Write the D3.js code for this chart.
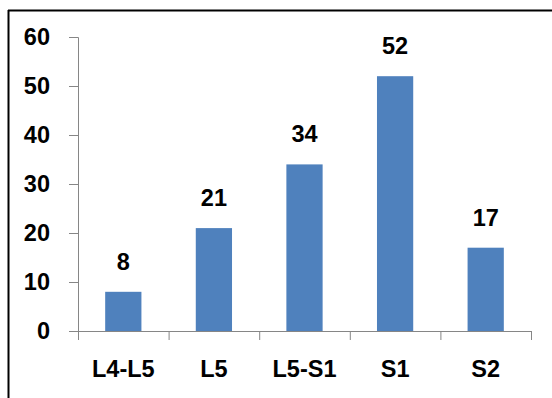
<!DOCTYPE html>
<html>
<head>
<meta charset="utf-8">
<script src="https://cdn.jsdelivr.net/npm/d3@7"></script>
<style>
  body { margin: 0; background: #fff; }
  text { font-family: "Liberation Sans", Arial, sans-serif; font-weight: bold; }
</style>
</head>
<body>
<div id="chart"></div>
<script>
// data
const categories = ["L4-L5", "L5", "L5-S1", "S1", "S2"];
const values = [8, 21, 34, 52, 17];
const yTicks = [0, 10, 20, 30, 40, 50, 60];

const width = 552, height = 398;
const margin = { top: 37, right: 21, bottom: 67, left: 78 };
const w = width - margin.left - margin.right;
const h = height - margin.top - margin.bottom;
const fontSize = "23.5px";

const svg = d3.select("#chart").append("svg")
    .attr("width", width)
    .attr("height", height);

// frame (only top and left edges are visible in the crop)
svg.append("line")
    .attr("x1", 8).attr("x2", width).attr("y1", 10.5).attr("y2", 10.5)
    .attr("stroke", "#000").attr("stroke-width", 2);
svg.append("line")
    .attr("x1", 8.5).attr("x2", 8.5).attr("y1", 10).attr("y2", height)
    .attr("stroke", "#000").attr("stroke-width", 2);

const g = svg.append("g")
    .attr("transform", `translate(${margin.left},${margin.top})`);

// band for the category slots, bars get 40% of each slot
const x = d3.scaleBand()
    .domain(categories)
    .range([0, w])
    .paddingInner(0.6)
    .paddingOuter(0.3);

const slot = d3.scaleBand()
    .domain(categories)
    .range([0, w]);

const y = d3.scaleLinear()
    .domain([0, 60])
    .range([h, 0]);

// bars
g.selectAll(".bar")
    .data(values)
    .enter().append("rect")
    .attr("class", "bar")
    .attr("x", (d, i) => x(categories[i]))
    .attr("y", d => y(d))
    .attr("width", x.bandwidth())
    .attr("height", d => y(0) - y(d))
    .attr("fill", "#4f81bd");

// value labels
g.selectAll(".val")
    .data(values)
    .enter().append("text")
    .attr("class", "val")
    .attr("x", (d, i) => x(categories[i]) + x.bandwidth() / 2)
    .attr("y", d => y(d) - 22)
    .attr("text-anchor", "middle")
    .style("font-size", fontSize)
    .attr("fill", "#000")
    .text(d => d);

// y axis
const yAxis = g.append("g")
    .call(d3.axisLeft(y).tickValues(yTicks).tickSize(9).tickPadding(19));
yAxis.select(".domain").attr("stroke", "#868686");
yAxis.selectAll(".tick line").attr("stroke", "#868686");
yAxis.selectAll(".tick text")
    .style("font-size", fontSize)
    .attr("fill", "#000");

// x axis, ticks at slot boundaries
const xAxis = g.append("g")
    .attr("transform", `translate(0,${h})`)
    .call(d3.axisBottom(slot).tickSize(0).tickPadding(29));
xAxis.select(".domain").attr("stroke", "#868686");
xAxis.selectAll(".tick text")
    .style("font-size", fontSize)
    .attr("fill", "#000");

const bounds = categories.map(c => slot(c)).concat([w]);
xAxis.selectAll(".bound")
    .data(bounds)
    .enter().append("line")
    .attr("class", "bound")
    .attr("x1", d => d + 0.5).attr("x2", d => d + 0.5)
    .attr("y1", 0).attr("y2", 9)
    .attr("stroke", "#868686");
</script>
</body>
</html>
